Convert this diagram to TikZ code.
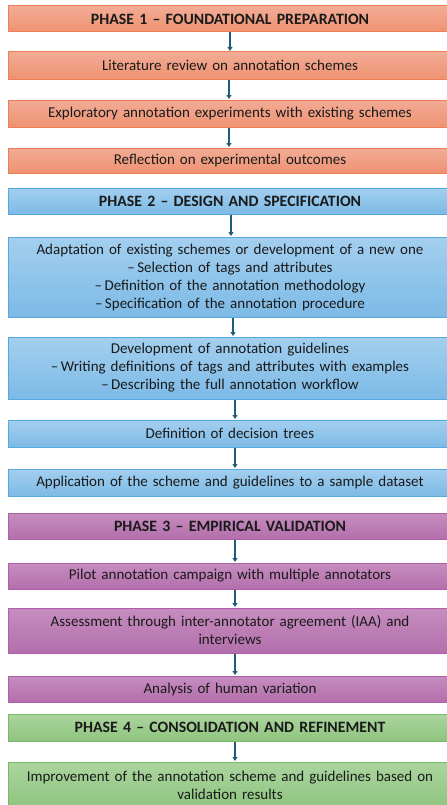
\documentclass[tikz,border=0pt]{standalone}
\usepackage{fontspec}
\setmainfont{Carlito}
\usetikzlibrary{arrows.meta,calc}
\definecolor{otop}{HTML}{F2AC95}
\definecolor{obot}{HTML}{EF9272}
\definecolor{obrd}{HTML}{ED7F55}
\definecolor{btop}{HTML}{A3CFEF}
\definecolor{bbot}{HTML}{7DBAE6}
\definecolor{bbrd}{HTML}{56A9E0}
\definecolor{ptop}{HTML}{C68DC0}
\definecolor{pbot}{HTML}{B36FAB}
\definecolor{pbrd}{HTML}{B060A8}
\definecolor{gtop}{HTML}{ABD59F}
\definecolor{gbot}{HTML}{8FC47E}
\definecolor{gbrd}{HTML}{7BB86A}
\definecolor{arrowc}{HTML}{1F5C7A}
\definecolor{txt}{HTML}{1A1A1A}
\begin{document}
\begin{tikzpicture}[x=1bp,y=-1bp,
  box/.style={draw, line width=1bp, minimum width=443.5bp, text width=436bp,
    align=center, inner sep=0pt, text=txt,
    font=\fontsize{15bp}{18bp}\selectfont},
  phase/.style={box, font=\fontsize{15.8bp}{18bp}\selectfont\bfseries},
  obox/.style={draw=obrd, top color=otop, bottom color=obot},
  bbox/.style={draw=bbrd, top color=btop, bottom color=bbot},
  pbox/.style={draw=pbrd, top color=ptop, bottom color=pbot},
  gbox/.style={draw=gbrd, top color=gtop, bottom color=gbot},
  arr/.style={draw=arrowc, line width=1.4bp, -{Triangle[width=5bp,length=4bp]}, shorten >=0.5bp}
]
\useasboundingbox (0,0) rectangle (447,805);
\clip (0,0) rectangle (447,805);
% Phase 1
\node[phase, obox, minimum height=26bp] (p1) at (230,19) {PHASE 1 – FOUNDATIONAL PREPARATION};
\node[box, obox, minimum height=27bp] (l1) at (230,65.5) {Literature review on annotation schemes};
\node[box, obox, minimum height=27bp] (l2) at (230,113.5) {Exploratory annotation experiments with existing schemes};
\node[box, obox, minimum height=25bp] (l3) at (230,160.5) {Reflection on experimental outcomes};
% Phase 2
\node[phase, bbox, minimum height=26bp] (p2) at (230,201) {PHASE 2 – DESIGN AND SPECIFICATION};
\node[box, bbox, minimum height=80bp] (b1) at (230,277) {Adaptation of existing schemes or development of a new one\\–\,Selection of tags and attributes\\–\,Definition of the annotation methodology\\–\,Specification of the annotation procedure};
\node[box, bbox, minimum height=62bp] (b2) at (230,368) {Development of annotation guidelines\\–\,Writing definitions of tags and attributes with examples\\–\,Describing the full annotation workflow};
\node[box, bbox, minimum height=27bp] (b3) at (230,433.5) {Definition of decision trees};
\node[box, bbox, minimum height=27bp] (b4) at (230,482.5) {Application of the scheme and guidelines to a sample dataset};
% Phase 3
\node[phase, pbox, minimum height=26bp] (p3) at (230,526) {PHASE 3 – EMPIRICAL VALIDATION};
\node[box, pbox, minimum height=26bp] (c1) at (230,576) {Pilot annotation campaign with multiple annotators};
\node[box, pbox, minimum height=45bp] (c2) at (230,630.5) {Assessment through inter-annotator agreement (IAA) and\\interviews};
\node[box, pbox, minimum height=26bp] (c3) at (230,689) {Analysis of human variation};
% Phase 4
\node[phase, gbox, minimum height=27bp] (p4) at (230,727.5) {PHASE 4 – CONSOLIDATION AND REFINEMENT};
\node[box, gbox, minimum height=46bp] (d1) at (230,785) {Improvement of the annotation scheme and guidelines based on\\validation results};
% Arrows
\draw[arr] (p1.south) -- (l1.north);
\draw[arr] ($(l1.south)+(-1,0)$) -- ($(l2.north)+(-1,0)$);
\draw[arr] ($(l2.south)+(-1,0)$) -- ($(l3.north)+(-1,0)$);
\draw[arr] ($(p2.south)+(1,0)$) -- ($(b1.north)+(1,0)$);
\draw[arr] ($(b1.south)+(3,0)$) -- ($(b2.north)+(3,0)$);
\draw[arr] ($(b2.south)+(5,0)$) -- ($(b3.north)+(5,0)$);
\draw[arr] ($(b3.south)+(5,0)$) -- ($(b4.north)+(5,0)$);
\draw[arr] ($(p3.south)+(5,0)$) -- ($(c1.north)+(5,0)$);
\draw[arr] ($(c1.south)+(5,0)$) -- ($(c2.north)+(5,0)$);
\draw[arr] ($(c2.south)+(5,0)$) -- ($(c3.north)+(5,0)$);
\draw[arr] ($(p4.south)+(5,0)$) -- ($(d1.north)+(5,0)$);
\end{tikzpicture}
\end{document}
